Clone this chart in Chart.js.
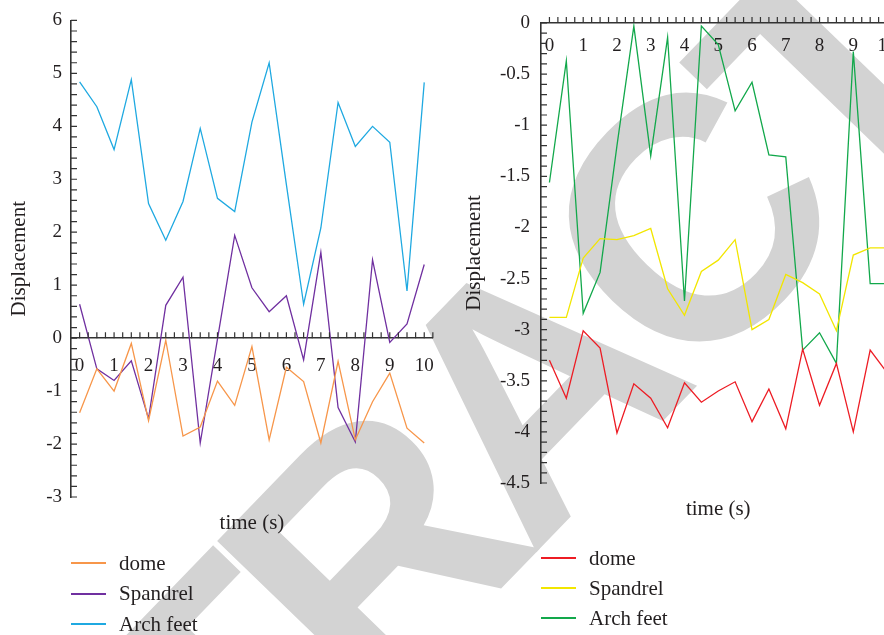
<!DOCTYPE html>
<html>
<head>
<meta charset="utf-8">
<script src="https://cdn.jsdelivr.net/npm/chart.js@4.4.1/dist/chart.umd.min.js"></script>
<style>
html, body { margin: 0; padding: 0; background: #fff; }
#page { position: relative; width: 884px; height: 635px; overflow: hidden; font-family: "Liberation Serif", serif; color: #231f20; }
#page canvas { position: absolute; top: 0; }
#mark { left: 0; }
#left { left: 0; }
#right { left: 450px; }
.legend { position: absolute; font-size: 21px; }
.legend .item { display: flex; align-items: center; white-space: nowrap; }
.legend .swatch { display: inline-block; width: 35px; height: 2px; margin-right: 13px; }
</style>
</head>
<body>
<div id="page">
  <canvas id="mark" width="884" height="635"></canvas>
  <canvas id="left" width="450" height="635"></canvas>
  <canvas id="right" width="460" height="635"></canvas>
  <div class="legend" id="leftLegend" style="left:71px; top:548px"></div>
  <div class="legend" id="rightLegend" style="left:541px; top:543px"></div>
</div>
<script>
// data (time step 0.5 s)
const timeS = [0, 0.5, 1, 1.5, 2, 2.5, 3, 3.5, 4, 4.5, 5, 5.5, 6, 6.5, 7, 7.5, 8, 8.5, 9, 9.5, 10];
const xTickLabels = [0, 1, 2, 3, 4, 5, 6, 7, 8, 9, 10];
const leftYTicks = [-3, -2, -1, 0, 1, 2, 3, 4, 5, 6];
const rightYTicks = [0, -0.5, -1, -1.5, -2, -2.5, -3, -3.5, -4, -4.5];
const seriesNames = ['dome', 'Spandrel', 'Arch feet'];

// left panel
const leftDome = [-1.41, -0.58, -1.0, -0.1, -1.56, -0.04, -1.85, -1.68, -0.81, -1.27, -0.16, -1.92, -0.55, -0.82, -1.98, -0.44, -1.92, -1.2, -0.66, -1.7, -1.98];
const leftSpandrel = [0.64, -0.58, -0.8, -0.43, -1.52, 0.62, 1.15, -1.98, -0.02, 1.94, 0.95, 0.5, 0.8, -0.41, 1.62, -1.31, -1.96, 1.48, -0.08, 0.27, 1.39];
const leftArch = [4.84, 4.37, 3.56, 4.88, 2.54, 1.85, 2.58, 3.96, 2.64, 2.39, 4.08, 5.2, 2.9, 0.64, 2.08, 4.45, 3.62, 4.0, 3.7, 0.89, 4.83];

// right panel
const rightDome = [-3.3, -3.67, -3.01, -3.18, -4.01, -3.53, -3.67, -3.96, -3.52, -3.71, -3.6, -3.51, -3.9, -3.58, -3.97, -3.19, -3.74, -3.33, -4.0, -3.2, -3.42];
const rightSpandrel = [-2.88, -2.88, -2.3, -2.11, -2.12, -2.08, -2.01, -2.6, -2.86, -2.43, -2.32, -2.12, -3.0, -2.9, -2.46, -2.54, -2.65, -3.01, -2.27, -2.2, -2.2];
const rightArch = [-1.56, -0.37, -2.84, -2.44, -1.2, -0.03, -1.3, -0.14, -2.72, -0.03, -0.21, -0.86, -0.58, -1.29, -1.31, -3.2, -3.03, -3.33, -0.28, -2.55, -2.55];

const leftColors = ['#f7964a', '#7030a0', '#1fa9e1'];
const rightColors = ['#ed1c24', '#f2e600', '#12a84b'];

const X_TITLE = 'time (s)';
const Y_TITLE = 'Displacement';
const WATERMARK = 'RETRACTED';
const INK = '#231f20';
const AXIS = '#333333';
const SERIF = '"Liberation Serif", serif';

// ----------------------
// Watermark (behind both charts)
// ----------------------
function drawWatermark() {
    const ctx = document.getElementById('mark').getContext('2d');
    const size = 345, spacing = -21;
    ctx.font = `bold ${size}px "Liberation Sans", sans-serif`;
    ctx.letterSpacing = spacing + 'px';
    const pre = ctx.measureText('RETR').width;
    const a = ctx.measureText('A').width - spacing;
    ctx.save();
    ctx.translate(528, 383);           // centre of the "A"
    ctx.rotate(-46 * Math.PI / 180);
    ctx.fillStyle = '#d3d3d3';
    ctx.textBaseline = 'alphabetic';
    ctx.fillText(WATERMARK, -(pre + a / 2), 0.716 * size / 2);
    ctx.restore();
}

// inward minor ticks + x axis title
const minorTicks = {
    id: 'minorTicks',
    afterDraw(chart, args, o) {
        const { ctx, chartArea, scales: { x, y } } = chart;
        const axisY = y.getPixelForValue(0);
        ctx.save();
        ctx.strokeStyle = AXIS;
        ctx.lineWidth = 1.2;
        ctx.beginPath();
        const nx = Math.round((x.max - 0) / o.xStep);
        for (let i = 0; i <= nx; i++) {
            const px = x.getPixelForValue(i * o.xStep);
            ctx.moveTo(px, axisY);
            ctx.lineTo(px, axisY - o.len);
        }
        const ny = Math.round((y.max - y.min) / o.yStep);
        for (let i = 0; i <= ny; i++) {
            const py = y.getPixelForValue(y.min + i * o.yStep);
            ctx.moveTo(chartArea.left, py);
            ctx.lineTo(chartArea.left + o.len, py);
        }
        ctx.stroke();

        ctx.fillStyle = INK;
        ctx.font = '21px ' + SERIF;
        ctx.textAlign = 'center';
        ctx.textBaseline = 'middle';
        ctx.fillText(X_TITLE, (chartArea.left + chartArea.right) / 2, chartArea.bottom + 26);
        ctx.restore();
    }
};

function makeDatasets(values, colors) {
    return seriesNames.map((name, i) => ({
        label: name,
        data: timeS.map((t, j) => ({ x: t, y: values[i][j] })),
        borderColor: colors[i],
        borderWidth: 1.3,
        pointRadius: 0,
        tension: 0,
        fill: false
    }));
}

function makeChart(id, values, colors, yMin, yMax, yTicks, lay) {
    const tickFont = { family: SERIF, size: 19 };
    return new Chart(document.getElementById(id), {
        type: 'line',
        data: { datasets: makeDatasets(values, colors) },
        options: {
            responsive: false,
            animation: false,
            events: [],
            layout: { padding: lay.padding },
            plugins: {
                legend: { display: false },
                tooltip: { enabled: false },
                minorTicks: { xStep: 0.25, yStep: lay.yStep, len: 6 }
            },
            scales: {
                x: {
                    type: 'linear',
                    min: -0.25,
                    max: 10.25,
                    position: { y: 0 },
                    grid: { drawOnChartArea: false, drawTicks: false },
                    border: { color: AXIS, width: 1.6 },
                    afterBuildTicks: s => { s.ticks = xTickLabels.map(v => ({ value: v })); },
                    ticks: { autoSkip: false, maxRotation: 0, padding: lay.xPad, color: INK, font: tickFont, callback: v => String(v) }
                },
                y: {
                    type: 'linear',
                    min: yMin,
                    max: yMax,
                    grid: { drawOnChartArea: false, drawTicks: false },
                    border: { color: AXIS, width: 1.6 },
                    afterFit: s => { s.width = lay.yWidth; },
                    afterBuildTicks: s => { s.ticks = yTicks.map(v => ({ value: v })); },
                    ticks: { padding: lay.yPad, color: INK, font: tickFont, callback: v => String(v) },
                    title: { display: true, text: Y_TITLE, color: INK, font: { family: SERIF, size: 21 }, padding: { top: lay.titlePad, bottom: 0 } }
                }
            }
        },
        plugins: [minorTicks]
    });
}

function buildLegend(chart, elId, rowHeight) {
    const box = document.getElementById(elId);
    chart.data.datasets.forEach(ds => {
        const row = document.createElement('div');
        row.className = 'item';
        row.style.height = rowHeight + 'px';
        const sw = document.createElement('span');
        sw.className = 'swatch';
        sw.style.background = ds.borderColor;
        row.appendChild(sw);
        row.appendChild(document.createTextNode(ds.label));
        box.appendChild(row);
    });
}

drawWatermark();

const leftChart = makeChart('left', [leftDome, leftSpandrel, leftArch], leftColors, -3, 6, leftYTicks, {
    padding: { left: 0, top: 18, right: 11, bottom: 138 },
    yWidth: 71, yPad: 9, xPad: 16, titlePad: 7, yStep: 0.2
});
const rightChart = makeChart('right', [rightDome, rightSpandrel, rightArch], rightColors, -4.5, 0, rightYTicks, {
    padding: { left: 0, top: 23, right: 14.5, bottom: 152 },
    yWidth: 91, yPad: 11, xPad: 12, titlePad: 12, yStep: 0.1
});

buildLegend(leftChart, 'leftLegend', 30.5);
buildLegend(rightChart, 'rightLegend', 30);
</script>
</body>
</html>
